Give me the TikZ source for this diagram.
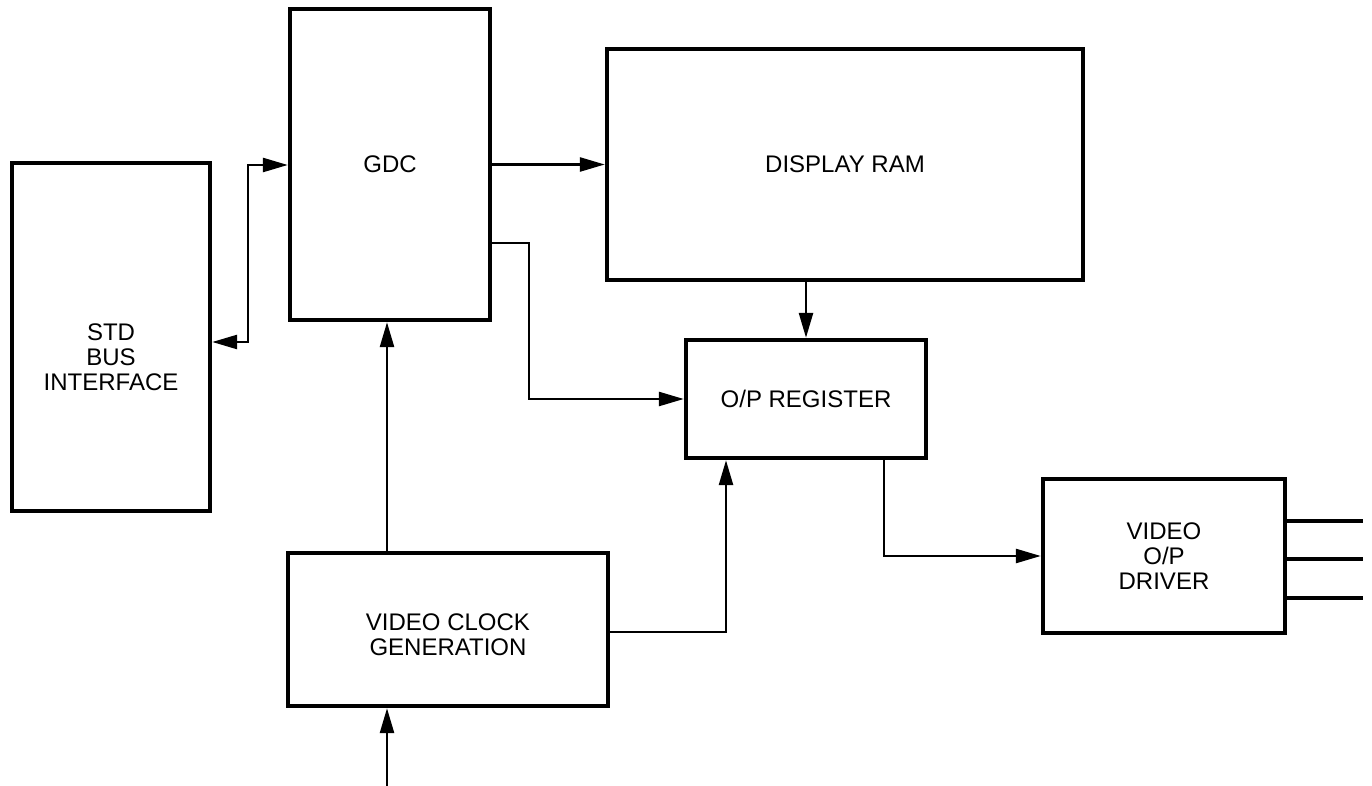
\documentclass[tikz,border=0pt]{standalone}
\usepackage{fontspec}
\setmainfont{Liberation Sans}
\usetikzlibrary{arrows.meta}
\begin{document}
\begin{tikzpicture}[x=0.5pt,y=-0.5pt,
  blk/.style={draw,line width=2.2pt,inner sep=0pt,fill=white},
  lbl/.style={align=center,font=\fontsize{12}{12.5}\selectfont,inner sep=0pt},
  conn/.style={line width=1.3pt,line join=miter},
  tip/.style={-{Triangle[length=12.5pt,width=7pt]}},
  dtip/.style={{Triangle[length=12.5pt,width=7pt]}-{Triangle[length=12.5pt,width=7pt]}}]
\useasboundingbox[fill=white] (0,0) rectangle (1372,786);

% blocks
\node[blk,minimum width=99pt,minimum height=174pt] (std) at (111,337) {};
\node[lbl] (stdt) at (111,357) {STD\\BUS\\INTERFACE};
\node[blk,minimum width=100pt,minimum height=155.5pt,lbl] (gdc) at (390,164.5) {GDC};
\node[blk,minimum width=238pt,minimum height=115.5pt,lbl] (ram) at (845,164.5) {DISPLAY RAM};
\node[blk,minimum width=120pt,minimum height=59pt,lbl] (opr) at (806,399) {O/P REGISTER};
\node[blk,minimum width=160pt,minimum height=76.5pt] (vclk) at (448,629.5) {};
\node[lbl] (vclkt) at (448,635) {VIDEO CLOCK\\GENERATION};
\node[blk,minimum width=121pt,minimum height=77pt,lbl] (drv) at (1164,556) {VIDEO\\O/P\\DRIVER};

% helper coordinates
\coordinate (a1) at (248,342);
\coordinate (a2) at (248,165);
\coordinate (k1) at (529,243);
\coordinate (k2) at (726,632);
\coordinate (k3) at (884,557);
\coordinate (k4) at (387,0);
\coordinate (in) at (387,786);
\coordinate (o1) at (1363,521);
\coordinate (o2) at (1363,559);
\coordinate (o3) at (1363,598);

% connectors
\draw[conn,dtip] (std.east |- a1) -- (a1) -- (a2) -- (gdc.west |- a2);
\draw[conn,tip] (gdc.east) -- (ram.west);
\draw[conn,tip] (gdc.east |- k1) -- (k1) |- (opr.west);
\draw[conn,tip] (opr.north |- ram.south) -- (opr.north);
\draw[conn,tip] (vclk.north -| k4) -- (gdc.south -| k4);
\draw[conn,tip] (vclk.east |- k2) -- (k2) -- (opr.south -| k2);
\draw[conn,tip] (opr.south -| k3) |- (drv.west);
\draw[conn,tip] (in) -- (vclk.south -| in);
\draw[line width=1.6pt] (drv.east |- o1) -- (o1);
\draw[line width=1.6pt] (drv.east |- o2) -- (o2);
\draw[line width=1.6pt] (drv.east |- o3) -- (o3);
\end{tikzpicture}
\end{document}
